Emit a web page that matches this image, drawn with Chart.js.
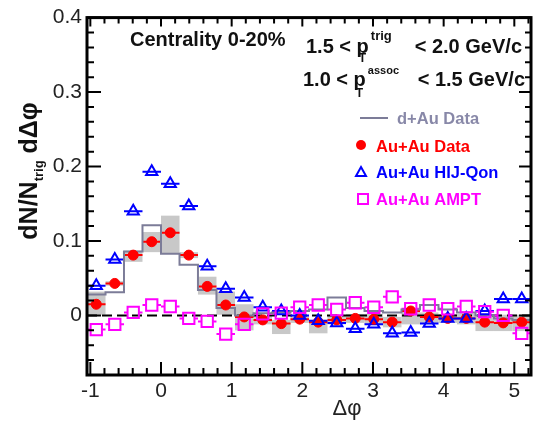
<!DOCTYPE html>
<html lang="en">
<head>
<meta charset="UTF-8">
<title>dN/dΔφ - Centrality 0-20%</title>
<script src="https://cdn.jsdelivr.net/npm/chart.js"></script>
<style>
    body { margin: 0; background: #ffffff; }
    #grafico { display: block; }
</style>
</head>
<body>
<canvas id="grafico" width="541" height="421"></canvas>
<script>
// centres of the 24 delta-phi bins (rad), range -pi/3 .. 5pi/3
const dphi = [-0.916, -0.654, -0.393, -0.131, 0.131, 0.393, 0.654, 0.916,
              1.178, 1.440, 1.702, 1.963, 2.225, 2.487, 2.749, 3.011,
              3.272, 3.534, 3.796, 4.058, 4.320, 4.581, 4.843, 5.105];
const halfBin = 0.131;

const auauData = [0.015, 0.043, 0.081, 0.099, 0.111, 0.081, 0.039, 0.014,
                  -0.002, -0.006, -0.011, -0.005, -0.009, -0.006, -0.004, -0.005,
                  -0.009, 0.006, -0.002, -0.004, -0.004, -0.009, -0.010, -0.009];
// systematic band of the Au+Au points
const auauSysLow  = [0.001, 0.040, 0.072, 0.085, 0.083, 0.077, 0.028, 0.001,
                     -0.020, -0.012, -0.025, -0.010, -0.024, -0.012, -0.010, -0.012,
                     -0.016, -0.012, -0.010, -0.010, -0.012, -0.021, -0.021, -0.021];
const auauSysHigh = [0.032, 0.046, 0.087, 0.112, 0.134, 0.085, 0.052, 0.032,
                     0.015, 0.000, -0.006, 0.000, -0.006, 0.000, 0.002, 0.002,
                     -0.002, 0.005, 0.004, 0.002, 0.002, 0.001, 0.001, 0.001];
const dauData = [0.028, 0.031, 0.086, 0.121, 0.083, 0.068, 0.034, 0.010,
                 0.000, 0.003, 0.004, 0.006, 0.008, 0.024, 0.010, 0.006,
                 0.004, 0.008, 0.014, 0.008, 0.004, 0.000, -0.004, -0.006];
const hijingQon = [0.040, 0.075, 0.140, 0.193, 0.177, 0.147, 0.066, 0.036,
                   0.024, 0.011, 0.006, 0.000, -0.007, -0.010, -0.018, -0.012,
                   -0.024, -0.023, -0.011, -0.004, -0.004, 0.006, 0.022, 0.022];
const ampt = [-0.019, -0.012, 0.004, 0.014, 0.012, -0.004, -0.008, -0.025,
              -0.012, 0.002, 0.003, 0.011, 0.014, 0.008, 0.017, 0.011,
              0.025, 0.009, 0.014, 0.009, 0.012, 0.005, 0.000, -0.024];

const xTicks = [-1, 0, 1, 2, 3, 4, 5];
const yTicks = [0, 0.1, 0.2, 0.3, 0.4];

const ROJO = '#ff0000', AZUL = '#0000ff', MAGENTA = '#ff00ff', GRIS = '#7c7c98';
const FUENTE = "'Liberation Sans', Arial, Helvetica, sans-serif";

const puntos = arr => arr.map((v, i) => ({ x: dphi[i], y: v }));

// d+Au histogram: one point per left bin edge plus the last right edge
const dauPasos = dauData.map((v, i) => ({ x: dphi[i] - halfBin, y: v }));
dauPasos.push({ x: dphi[dphi.length - 1] + halfBin, y: dauData[dauData.length - 1] });

// horizontal bin-width bars through the markers
function barras(ctx, x, y, valores, color, hueco) {
    ctx.strokeStyle = color;
    ctx.lineWidth = 2;
    valores.forEach((v, i) => {
        const xc = x.getPixelForValue(dphi[i]);
        const x0 = x.getPixelForValue(dphi[i] - halfBin);
        const x1 = x.getPixelForValue(dphi[i] + halfBin);
        const py = y.getPixelForValue(v);
        ctx.beginPath();
        ctx.moveTo(x0, py); ctx.lineTo(xc - hueco, py);
        ctx.moveTo(xc + hueco, py); ctx.lineTo(x1, py);
        ctx.stroke();
    });
}

const fondo = {
    id: 'fondo',
    beforeDatasetsDraw(chart) {
        const { ctx, chartArea: a, scales: { x, y } } = chart;
        ctx.save();
        ctx.beginPath();
        ctx.rect(a.left, a.top, a.right - a.left, a.bottom - a.top);
        ctx.clip();

        // grey systematic boxes
        ctx.fillStyle = '#c8c8c8';
        dphi.forEach((v, i) => {
            const x0 = x.getPixelForValue(v - halfBin);
            const x1 = x.getPixelForValue(v + halfBin);
            const y0 = y.getPixelForValue(auauSysHigh[i]);
            const y1 = y.getPixelForValue(auauSysLow[i]);
            ctx.fillRect(x0, y0, x1 - x0, y1 - y0);
        });

        // dashed zero line
        ctx.strokeStyle = '#000';
        ctx.lineWidth = 2;
        ctx.setLineDash([10, 5]);
        ctx.beginPath();
        ctx.moveTo(a.left, y.getPixelForValue(0));
        ctx.lineTo(a.right, y.getPixelForValue(0));
        ctx.stroke();
        ctx.setLineDash([]);

        barras(ctx, x, y, auauData, ROJO, 0);
        barras(ctx, x, y, hijingQon, AZUL, 0);
        barras(ctx, x, y, ampt, MAGENTA, 6);
        ctx.restore();
    }
};

// frame and inward ticks on all four sides
const marcas = {
    id: 'marcas',
    afterDraw(chart) {
        const { ctx, chartArea: a, scales: { x, y } } = chart;
        ctx.save();
        ctx.strokeStyle = '#000';
        ctx.lineWidth = 2;
        ctx.beginPath();
        for (let k = -5; k <= 26; k++) {
            const v = k * 0.2;
            if (v < x.min || v > x.max) continue;
            const px = x.getPixelForValue(v);
            const mayor = k % 5 === 0;
            ctx.moveTo(px, a.bottom); ctx.lineTo(px, a.bottom - (mayor ? 13 : 7));
            ctx.moveTo(px, a.top); ctx.lineTo(px, a.top + (mayor ? 9 : 6));
        }
        for (let k = -4; k <= 20; k++) {
            const py = y.getPixelForValue(k * 0.02);
            const mayor = k % 5 === 0;
            ctx.moveTo(a.left, py); ctx.lineTo(a.left + (mayor ? 14 : 7), py);
            ctx.moveTo(a.right, py); ctx.lineTo(a.right - (mayor ? 12 : 6), py);
        }
        ctx.stroke();
        ctx.lineWidth = 3;
        ctx.strokeRect(a.left, a.top, a.right - a.left, a.bottom - a.top);
        ctx.restore();
    }
};

function texto(ctx, s, px, py, size, color, peso = 'bold', align = 'left') {
    ctx.font = `${peso} ${size}px ${FUENTE}`;
    ctx.fillStyle = color;
    ctx.textAlign = align;
    ctx.fillText(s, px, py);
    return ctx.measureText(s).width;
}

const rotulos = {
    id: 'rotulos',
    afterDraw(chart) {
        const { ctx } = chart;
        ctx.save();
        ctx.textBaseline = 'alphabetic';

        // y title: dN/N_trig dΔφ
        ctx.save();
        ctx.translate(37, 171);
        ctx.rotate(-Math.PI / 2);
        ctx.font = `bold 25px ${FUENTE}`;
        const w1 = ctx.measureText('dN/N').width;
        ctx.font = `bold 13px ${FUENTE}`;
        const w2 = ctx.measureText('trig').width;
        ctx.font = `bold 25px ${FUENTE}`;
        const w3 = ctx.measureText(' dΔφ').width;
        let cx = -(w1 + w2 + w3) / 2;
        texto(ctx, 'dN/N', cx, 0, 25, '#111');
        texto(ctx, 'trig', cx + w1, 6, 13, '#111');
        texto(ctx, ' dΔφ', cx + w1 + w2, 0, 25, '#111');
        ctx.restore();

        // x title
        texto(ctx, 'Δφ', 347, 415, 22, '#222', 'normal', 'center');

        texto(ctx, 'Centrality 0-20%', 130, 46, 20, '#111');

        // kinematic ranges
        let w = texto(ctx, '1.5 < p', 306, 53, 20, '#111');
        texto(ctx, 'trig', 306 + w + 2, 40, 13, '#111');
        texto(ctx, 'T', 306 + w - 10, 62, 12, '#111');
        texto(ctx, '< 2.0 GeV/c', 522, 53, 20, '#111', 'bold', 'right');

        w = texto(ctx, '1.0 < p', 303, 86, 20, '#111');
        texto(ctx, 'assoc', 303 + w + 2, 74, 11, '#111');
        texto(ctx, 'T', 303 + w - 10, 97, 12, '#111');
        texto(ctx, '< 1.5 GeV/c', 525, 86, 20, '#111', 'bold', 'right');

        // legend
        ctx.strokeStyle = GRIS;
        ctx.lineWidth = 2;
        ctx.beginPath(); ctx.moveTo(360, 118); ctx.lineTo(388, 118); ctx.stroke();
        texto(ctx, 'd+Au Data', 397, 124, 16.5, '#8888a8');

        ctx.fillStyle = ROJO;
        ctx.beginPath(); ctx.arc(361, 145, 5, 0, Math.PI * 2); ctx.fill();
        texto(ctx, 'Au+Au Data', 376, 152, 16.5, ROJO);

        ctx.strokeStyle = AZUL;
        ctx.beginPath();
        ctx.moveTo(361, 167); ctx.lineTo(366, 176); ctx.lineTo(356, 176); ctx.closePath();
        ctx.stroke();
        texto(ctx, 'Au+Au HIJ-Qon', 376, 178, 16.5, AZUL);

        ctx.strokeStyle = MAGENTA;
        ctx.strokeRect(358, 194, 10, 10);
        texto(ctx, 'Au+Au AMPT', 376, 205, 16.5, MAGENTA);

        ctx.restore();
    }
};

const ctx = document.getElementById('grafico').getContext('2d');

const grafico = new Chart(ctx, {
    type: 'scatter',
    data: {
        datasets: [
            {
                label: 'Au+Au AMPT',
                data: puntos(ampt),
                pointStyle: 'rect',
                pointRadius: 8,
                borderColor: MAGENTA,
                backgroundColor: 'rgba(0,0,0,0)',
                borderWidth: 2,
                order: 1
            },
            {
                label: 'Au+Au HIJ-Qon',
                data: puntos(hijingQon),
                pointStyle: 'triangle',
                pointRadius: 6.5,
                borderColor: AZUL,
                backgroundColor: 'rgba(0,0,0,0)',
                borderWidth: 2,
                order: 2
            },
            {
                label: 'Au+Au Data',
                data: puntos(auauData),
                pointStyle: 'circle',
                pointRadius: 5,
                borderColor: ROJO,
                backgroundColor: ROJO,
                borderWidth: 1,
                order: 3
            },
            {
                label: 'd+Au Data',
                type: 'line',
                data: dauPasos,
                stepped: true,
                borderColor: GRIS,
                borderWidth: 2,
                pointRadius: 0,
                fill: false,
                order: 4
            }
        ]
    },
    options: {
        responsive: false,
        animation: false,
        layout: { padding: { top: 14, right: 3, left: 0, bottom: 0 } },
        plugins: {
            legend: { display: false },
            tooltip: { enabled: false }
        },
        scales: {
            x: {
                type: 'linear',
                min: -Math.PI / 3,
                max: 5 * Math.PI / 3,
                grid: { display: false, drawTicks: false },
                border: { display: false },
                afterFit: s => { s.height = 46; },
                afterBuildTicks: s => { s.ticks = xTicks.map(v => ({ value: v })); },
                ticks: {
                    padding: 4,
                    color: '#222',
                    font: { family: FUENTE, size: 21 },
                    callback: v => String(v)
                }
            },
            y: {
                type: 'linear',
                min: -0.08,
                max: 0.4,
                grid: { display: false, drawTicks: false },
                border: { display: false },
                afterFit: s => { s.width = 87; },
                afterBuildTicks: s => { s.ticks = yTicks.map(v => ({ value: v })); },
                ticks: {
                    padding: 5,
                    color: '#222',
                    font: { family: FUENTE, size: 21 },
                    callback: v => v === 0 ? '0' : v.toFixed(1)
                }
            }
        }
    },
    plugins: [fondo, marcas, rotulos]
});
</script>
</body>
</html>
